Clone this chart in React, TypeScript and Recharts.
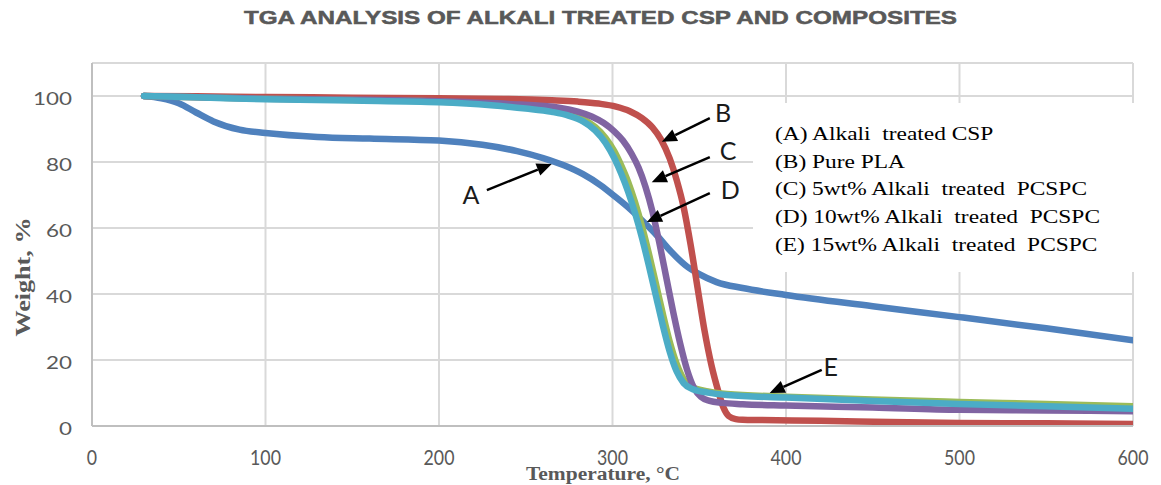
import React from "react";
import {
  LineChart,
  Line,
  XAxis,
  YAxis,
  CartesianGrid,
  ReferenceLine,
  ReferenceDot,
} from "recharts";

// temperature (°C) and weight (%)
const csp_t = [30, 40, 50, 60, 70, 85, 100, 130, 160, 200, 225, 245, 260, 272, 283, 293, 302, 310, 318, 326, 334, 342, 350, 360, 375, 400, 450, 500, 550, 600];
const csp_w = [100, 99.3, 97.8, 95, 92.3, 89.8, 88.8, 87.6, 87.1, 86.5, 85.2, 83.3, 81.2, 79, 76.3, 73, 69.3, 65.8, 61.8, 57.5, 52.7, 48.7, 46, 43.6, 41.8, 39.7, 36.3, 33, 29.6, 26];

const pla_t = [30, 60, 100, 150, 200, 240, 265, 280, 292, 302, 310, 317, 323, 328, 333, 337, 341, 345, 349, 353, 357, 361, 364, 367, 371, 375, 385, 420, 460, 500, 550, 600];
const pla_w = [100, 99.9, 99.7, 99.5, 99.3, 99.1, 98.7, 98.3, 97.7, 96.8, 95.4, 93.3, 90.5, 86.8, 81, 74.5, 66.3, 55, 42, 29, 18.5, 10.5, 5.5, 3, 2.1, 1.9, 1.8, 1.6, 1.2, 0.9, 0.8, 0.6];

const c5_t = [30, 100, 150, 200, 230, 250, 265, 275, 283, 290, 296, 301, 305, 309, 313, 317, 321, 325, 329, 333, 337, 341, 346, 355, 366, 400, 450, 500, 550, 600];
const c5_w = [100, 99.2, 98.8, 98.3, 97.6, 96.6, 95.6, 94.5, 93, 90.6, 87.3, 83.3, 79, 74, 67.8, 60.5, 52.2, 43.2, 34, 25.5, 18.8, 14.2, 11.8, 10.5, 9.7, 8.9, 8, 7.3, 6.7, 6];

const c10_t = [30, 100, 150, 200, 240, 270, 280, 288, 295, 301, 306, 311, 315, 319, 323, 327, 331, 335, 339, 343, 347, 351, 356, 363, 375, 400, 450, 500, 550, 600];
const c10_w = [100, 99.2, 98.9, 98.4, 97.6, 96.4, 95.3, 93.8, 91.8, 89.3, 86.5, 82.5, 78.3, 72.5, 65, 55.5, 45, 34.5, 25, 17, 11.5, 8.8, 7.6, 7, 6.6, 6.2, 5.6, 4.9, 4.7, 4.5];

const c15_t = [30, 60, 100, 150, 200, 230, 250, 265, 275, 283, 290, 296, 301, 305, 309, 313, 317, 321, 325, 329, 333, 337, 341, 346, 355, 366, 400, 450, 500, 550, 600];
const c15_w = [100, 99.6, 99, 98.6, 98.1, 97.2, 96.2, 95.2, 94, 92.3, 89.6, 85.8, 81.2, 76.5, 71, 64.5, 57, 48.5, 39.5, 30.5, 22.5, 16.5, 13, 11.2, 10.1, 9.4, 8.6, 7.6, 6.7, 6, 5.2];

const xTicks = [0, 100, 200, 300, 400, 500, 600];
const yTicks = [0, 20, 40, 60, 80, 100];

const legendRows = [
  "(A) Alkali  treated CSP",
  "(B) Pure PLA",
  "(C) 5wt% Alkali  treated  PCSPC",
  "(D) 10wt% Alkali  treated  PCSPC",
  "(E) 15wt% Alkali  treated  PCSPC",
];

// arrow annotations: letter position, arrow tail, arrow tip (data coords)
const letters = ["A", "B", "C", "D", "E"];
const letterT = [218.4, 363.8, 366.7, 367.9, 425.8];
const letterW = [70, 94.7, 83.2, 71.5, 17.7];
const tailT = [227.6, 356.1, 356.1, 356.1, 420.6];
const tailW = [71.5, 93.3, 81.5, 70.6, 17];
const tipT = [265, 328.4, 322.6, 319.8, 390.6];
const tipW = [79.4, 86.1, 73.9, 61.8, 10];

const zip = (t: number[], w: number[]) => t.map((v, i) => ({ t: v, w: w[i] }));

const series = [
  { name: "A", data: zip(csp_t, csp_w), color: "#4F81BD" },
  { name: "B", data: zip(pla_t, pla_w), color: "#C0504D" },
  { name: "C", data: zip(c5_t, c5_w), color: "#9BBB59" },
  { name: "D", data: zip(c10_t, c10_w), color: "#8064A2" },
  { name: "E", data: zip(c15_t, c15_w), color: "#4BACC6" },
];

const grey = "#595959";

const XTick = ({ x, y, payload }: any) => {
  const s = String(payload.value);
  return (
    <text x={x} y={y + 39} textAnchor="middle" fontFamily="Lato, sans-serif" fontSize={22} fill={grey}
      textLength={s.length * 10.3} lengthAdjust="spacingAndGlyphs">
      {s}
    </text>
  );
};

const YTick = ({ x, y, payload }: any) => {
  const s = String(payload.value);
  return (
    <text x={x - 20} y={y + 9} textAnchor="end" fontFamily="Lato, sans-serif" fontSize={18} fill={grey}
      textLength={s.length * 13} lengthAdjust="spacingAndGlyphs">
      {s}
    </text>
  );
};

const Arrow = (props: any) => {
  const { x1, y1, x2, y2 } = props;
  if ([x1, y1, x2, y2].some((v) => typeof v !== "number")) return null;
  const dx = x2 - x1;
  const dy = y2 - y1;
  const len = Math.hypot(dx, dy) || 1;
  const ux = dx / len;
  const uy = dy / len;
  const head = 15;
  const half = 6.5;
  const bx = x2 - ux * head;
  const by = y2 - uy * head;
  const pts = `${x2},${y2} ${bx - uy * half},${by + ux * half} ${bx + uy * half},${by - ux * half}`;
  return (
    <g>
      <line x1={x1} y1={y1} x2={bx} y2={by} stroke="#000" strokeWidth={2.5} />
      <polygon points={pts} fill="#000" />
    </g>
  );
};

export default function App() {
  return (
    <div style={{ position: "absolute", left: 0, top: 0, width: 1161, height: 485, background: "#fff" }}>
      <LineChart width={1161} height={485} margin={{ top: 63, right: 28, bottom: 0, left: 0 }}>
        <CartesianGrid stroke="#d9d9d9" strokeWidth={2} />
        <XAxis
          dataKey="t"
          type="number"
          domain={[0, 600]}
          ticks={xTicks}
          height={59}
          tickSize={0}
          tickMargin={0}
          tickLine={false}
          axisLine={{ stroke: "#bfbfbf", strokeWidth: 2 }}
          tick={<XTick />}
          allowDataOverflow
        />
        <YAxis
          type="number"
          domain={[0, 110]}
          ticks={yTicks}
          width={92}
          tickSize={0}
          tickMargin={0}
          tickLine={false}
          axisLine={{ stroke: "#bfbfbf", strokeWidth: 2 }}
          tick={<YTick />}
          allowDataOverflow
        />
        {series.map((s) => (
          <Line
            key={s.name}
            data={s.data}
            dataKey="w"
            type="monotone"
            stroke={s.color}
            strokeWidth={6.5}
            strokeLinecap="round"
            strokeLinejoin="round"
            dot={false}
            activeDot={false}
            isAnimationActive={false}
          />
        ))}
        {letters.map((l, i) => (
          <ReferenceLine
            key={"arrow" + l}
            segment={[
              { x: tailT[i], y: tailW[i] },
              { x: tipT[i], y: tipW[i] },
            ]}
            shape={Arrow}
            ifOverflow="visible"
          />
        ))}
        {letters.map((l, i) => (
          <ReferenceDot
            key={"letter" + l}
            x={letterT[i]}
            y={letterW[i]}
            r={1}
            fill="none"
            stroke="none"
            ifOverflow="visible"
            label={{ value: l, position: "center", fill: "#1a1a1a", fontSize: 25, fontFamily: "Lato, sans-serif" }}
          />
        ))}
      </LineChart>

      <svg width={1161} height={485} style={{ position: "absolute", left: 0, top: 0, pointerEvents: "none" }}>
        <text x={244} y={24} fontFamily="'Liberation Sans', Arial, sans-serif" fontWeight="bold" fontSize={18} fill={grey}
          stroke={grey} strokeWidth={0.5} textLength={713} lengthAdjust="spacingAndGlyphs">
          TGA ANALYSIS OF ALKALI TREATED CSP AND COMPOSITES
        </text>
        <text transform="translate(23,277) rotate(-90)" textAnchor="middle" dominantBaseline="central"
          fontFamily="'Liberation Serif', 'Times New Roman', serif" fontWeight="bold" fontSize={21} fill={grey}
          textLength={119} lengthAdjust="spacingAndGlyphs">
          Weight, %
        </text>
        <text x={526} y={480} fontFamily="'Liberation Serif', 'Times New Roman', serif" fontWeight="bold" fontSize={18} fill={grey}
          textLength={154} lengthAdjust="spacingAndGlyphs">
          Temperature, °C
        </text>
      </svg>

      <div style={{ position: "absolute", left: 753, top: 103, width: 392, height: 169, background: "#fff" }}>
        <div style={{
          position: "absolute", left: 22, top: 18, transform: "scaleX(1.3)", transformOrigin: "0 0",
          fontFamily: "'Liberation Serif', 'Times New Roman', serif", fontSize: 18, lineHeight: "27.7px",
          color: "#000", whiteSpace: "pre",
        }}>
          {legendRows.map((r) => (
            <div key={r}>{r}</div>
          ))}
        </div>
      </div>
    </div>
  );
}
